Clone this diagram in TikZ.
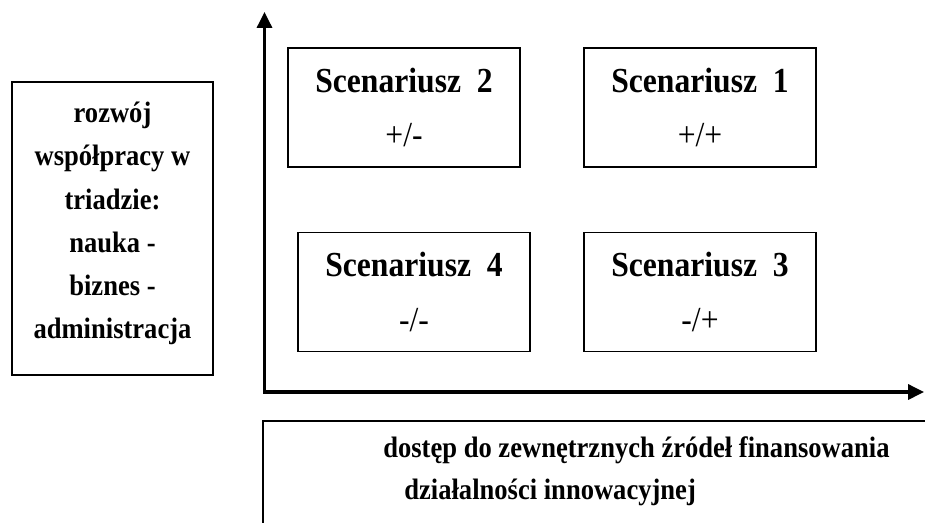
\documentclass[tikz,border=0pt]{standalone}
\usepackage{fontspec}
\setmainfont{Liberation Serif}[FakeStretch=0.9]
\usetikzlibrary{arrows.meta}

\tikzset{
  scenbox/.style={draw, line width=1pt, minimum width=4.64cm, minimum height=2.38cm,
    align=center, inner sep=0pt, font=\fontsize{20}{31}\selectfont\bfseries},
  sidebox/.style={draw, line width=1pt, minimum width=4.02cm, minimum height=5.86cm, inner sep=0pt},
  sidetext/.style={align=center, inner sep=0pt, font=\fontsize{16.8}{24.6}\selectfont\bfseries},
  xlabel/.style={inner sep=0pt, anchor=base west, font=\fontsize{16.8}{24}\selectfont\bfseries},
  axis/.style={line width=1.8pt, line join=miter},
  tip/.tip={Triangle[width=8.5pt, length=9pt]}
}

\begin{document}
\begin{tikzpicture}[x=0.02cm, y=-0.02cm]

  \useasboundingbox (0,0) rectangle (925,522);
  \clip (0,0) rectangle (925,522);

  \coordinate (O) at (264.5,392);
  \coordinate (Ytop) at (264.5,12);
  \coordinate (Xend) at (924,392);

  % Draw the two axes
  \draw [axis, tip-tip] (Ytop) -- (O) -- (Xend);

  % Scenario boxes
  \node [scenbox] (S2) at (404,107.5) {Scenariusz\ \ 2\\{\mdseries +/-}};
  \node [scenbox] (S1) at (700,107.5) {Scenariusz\ \ 1\\{\mdseries +/+}};
  \node [scenbox] (S4) at (414,292) {Scenariusz\ \ 4\\{\mdseries -/-}};
  \node [scenbox] (S3) at (700,292) {Scenariusz\ \ 3\\{\mdseries -/+}};

  % Label of the vertical axis
  \node [sidebox] (Ylab) at (112.5,228.5) {};
  \node [sidetext] (Ytext) at ([yshift=0.1cm]Ylab.center) {rozwój\\współpracy w\\triadzie:\\nauka -\\biznes -\\administracja};

  % Label of the horizontal axis
  \coordinate (B0) at (263,421);
  \draw [line width=1pt] (B0 -| 940,0) -- (B0) -- (B0 |- 0,540);
  \node [xlabel] (Xlab1) at (383,457) {dostęp do zewnętrznych źródeł finansowania};
  \node [xlabel] (Xlab2) at (404,499) {działalności innowacyjnej};

\end{tikzpicture}
\end{document}
